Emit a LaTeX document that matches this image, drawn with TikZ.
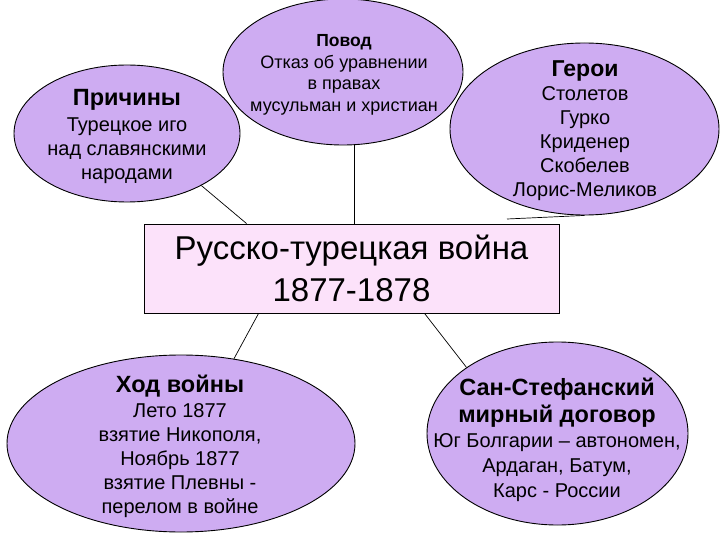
\documentclass[tikz,border=0pt]{standalone}
\usepackage{fontspec}
\setmainfont{Liberation Sans}
\usetikzlibrary{shapes.geometric}
\definecolor{ellfill}{RGB}{206,172,242}
\definecolor{boxfill}{RGB}{252,226,250}
\begin{document}
\begin{tikzpicture}[x=1pt,y=-1pt,
  oval/.style={ellipse,draw=black,line width=0.9pt,fill=ellfill,inner sep=0pt},
  txt/.style={align=center,inner sep=0pt,text=black},
  ttl/.style={},
  link/.style={draw=black,line width=0.7pt}]
\useasboundingbox (0,0) rectangle (720,540);

\node[draw=black,line width=0.9pt,fill=boxfill,minimum width=415,minimum height=89,inner sep=0pt,
      align=center,font=\fontsize{33}{42}\selectfont] (war) at (351.5,268.5)
      {Русско-турецкая война\\1877-1878};

\node[oval,minimum width=226,minimum height=137] (pr) at (127,133.5) {};
\node[oval,minimum width=240,minimum height=146] (pv) at (343,72) {};
\node[oval,minimum width=269,minimum height=172] (hr) at (584.5,129) {};
\node[oval,minimum width=348,minimum height=177] (hv) at (181,443.5) {};
\node[oval,minimum width=261,minimum height=183] (ss) at (557.5,433.5) {};

\coordinate (hrend) at (507,219);
\draw[link] (pr.-35) -- ([xshift=103pt]war.north west);
\draw[link] ([xshift=11pt]pv.south) -- ([xshift=11pt]pv.south |- war.north);
\draw[link] (hr.south) -- (hrend);
\draw[link] ([xshift=115pt]war.south west) -- (hv.58);
\draw[link] ([xshift=281pt]war.south west) -- (ss.144);

\node[txt,font=\fontsize{20}{24}\selectfont] (prt) at (127,136)
  {{\fontsize{23.5}{24}\selectfont\bfseries Причины}\\[2pt]Турецкое иго\\над славянскими\\народами};
\node[txt,font=\fontsize{18}{21.5}\selectfont] (pvt) at (344,75)
  {{\fontsize{17.5}{21.5}\selectfont\bfseries Повод}\\Отказ об уравнении\\в правах\\мусульман и христиан};
\node[txt,font=\fontsize{20}{24}\selectfont] (hrt) at (585,131)
  {{\fontsize{23}{24}\selectfont\bfseries Герои}\\Столетов\\Гурко\\Криденер\\Скобелев\\Лорис-Меликов};
\node[txt,font=\fontsize{20}{24}\selectfont] (hvt) at (180,446)
  {{\fontsize{23.5}{24}\selectfont\bfseries Ход войны}\\[1pt]Лето 1877\\взятие Никополя,\\Ноябрь 1877\\взятие Плевны -\\перелом в войне};
\node[txt,font=\fontsize{20}{25}\selectfont] (sst) at (557,440)
  {{\fontsize{23.5}{27}\selectfont\bfseries Сан-Стефанский}\\[2pt]{\fontsize{23.5}{27}\selectfont\bfseries мирный договор}\\Юг Болгарии – автономен,\\Ардаган, Батум,\\Карс - России};
\end{tikzpicture}
\end{document}
